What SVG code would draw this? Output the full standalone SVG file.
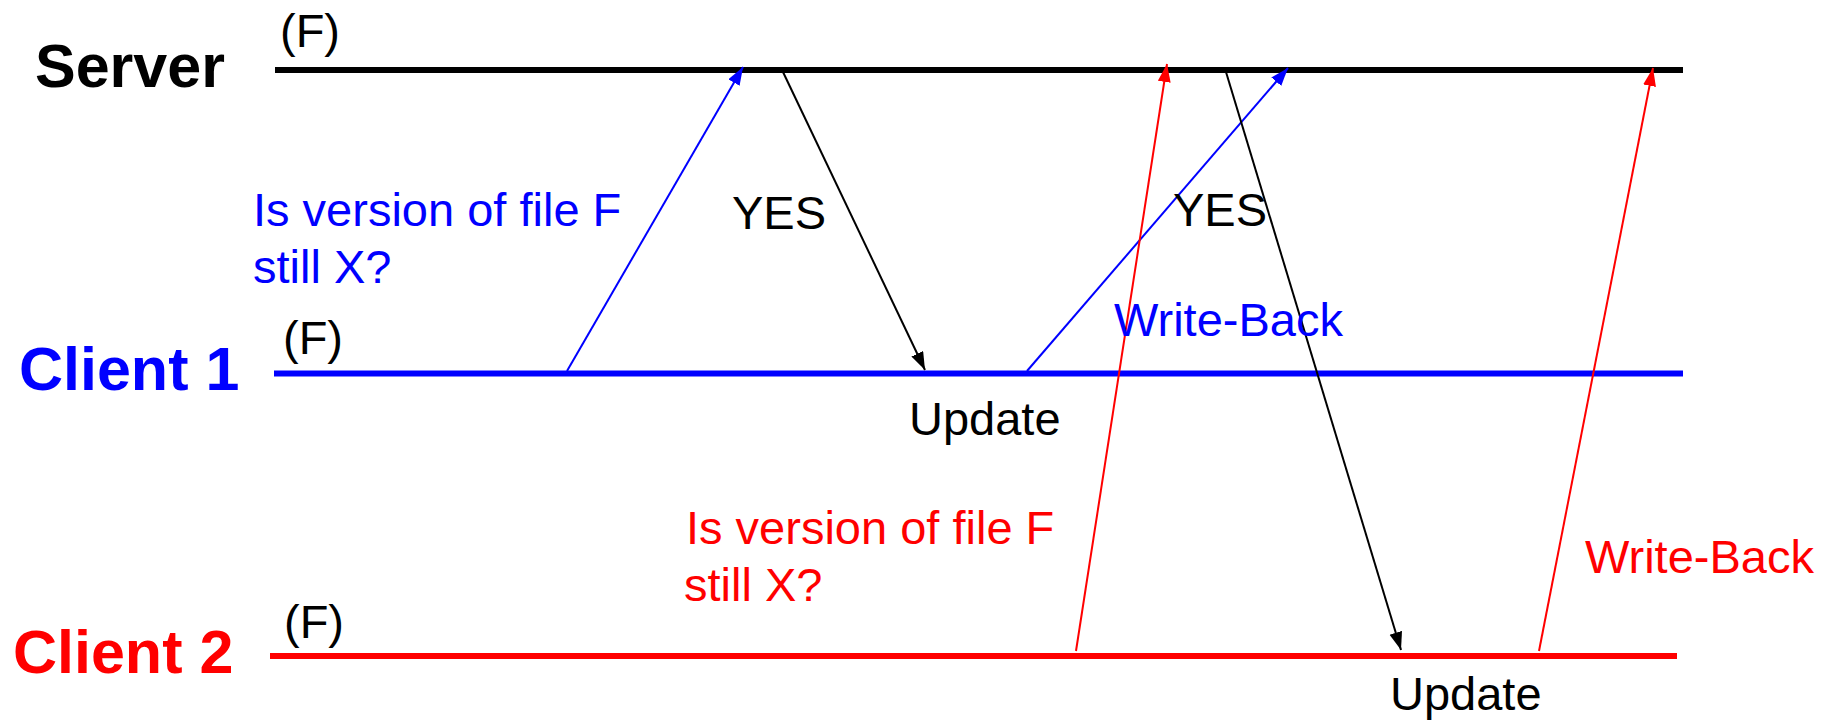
<svg xmlns="http://www.w3.org/2000/svg" width="1826" height="721" viewBox="0 0 1826 721">
<style>
  .lbl{font-family:"Liberation Sans",Arial,sans-serif;font-size:47px}
  .big{font-family:"Liberation Sans",Arial,sans-serif;font-size:61px;font-weight:bold}
  .k{fill:#000}
  .b{fill:#0000FF}
  .r{fill:#FF0000}
  .line{stroke-width:6;fill:none}
  .msg{stroke-width:2;fill:none}
</style>
<defs>
  <marker id="ak" markerUnits="userSpaceOnUse" markerWidth="19" markerHeight="14" refX="18" refY="6.5" orient="auto">
    <path d="M0,0 L18,6.5 L0,13 z" fill="#000"/>
  </marker>
  <marker id="ab" markerUnits="userSpaceOnUse" markerWidth="19" markerHeight="14" refX="18" refY="6.5" orient="auto">
    <path d="M0,0 L18,6.5 L0,13 z" fill="#0000FF"/>
  </marker>
  <marker id="ar" markerUnits="userSpaceOnUse" markerWidth="19" markerHeight="14" refX="18" refY="6.5" orient="auto">
    <path d="M0,0 L18,6.5 L0,13 z" fill="#FF0000"/>
  </marker>
</defs>
<rect width="1826" height="721" fill="#fff"/>

<g id="server">
  <text class="big k" x="35" y="87">Server</text>
  <text class="lbl k" x="280" y="47">(F)</text>
  <line class="line" x1="275" y1="70" x2="1683" y2="70" stroke="#000"/>
</g>
<g id="client1">
  <text class="big b" x="19" y="390">Client 1</text>
  <text class="lbl k" x="283" y="354">(F)</text>
  <line class="line" x1="274" y1="373.5" x2="1683" y2="373.5" stroke="#0000FF"/>
</g>
<g id="client2">
  <text class="big r" x="13" y="673">Client 2</text>
  <text class="lbl k" x="284" y="638">(F)</text>
  <line class="line" x1="270" y1="656" x2="1677" y2="656" stroke="#FF0000"/>
</g>

<g id="connectors">
  <line class="msg" x1="567" y1="371" x2="743" y2="67" stroke="#0000FF" marker-end="url(#ab)"/>
  <line class="msg" x1="783" y1="72" x2="925" y2="370" stroke="#000" marker-end="url(#ak)"/>
  <line class="msg" x1="1027" y1="371" x2="1288" y2="68" stroke="#0000FF" marker-end="url(#ab)"/>
  <line class="msg" x1="1076" y1="651" x2="1167" y2="64" stroke="#FF0000" marker-end="url(#ar)"/>
  <line class="msg" x1="1226" y1="72" x2="1401" y2="650" stroke="#000" marker-end="url(#ak)"/>
  <line class="msg" x1="1539" y1="651" x2="1653" y2="68" stroke="#FF0000" marker-end="url(#ar)"/>
</g>

<g id="labels">
  <text class="lbl b" x="253" y="226">Is version of file F</text>
  <text class="lbl b" x="253" y="283">still X?</text>
  <text class="lbl k" x="732" y="229">YES</text>
  <text class="lbl k" x="1173" y="226">YES</text>
  <text class="lbl b" x="1114" y="336">Write-Back</text>
  <text class="lbl k" x="909" y="435">Update</text>
  <text class="lbl r" x="686" y="544">Is version of file F</text>
  <text class="lbl r" x="684" y="601">still X?</text>
  <text class="lbl r" x="1585" y="573">Write-Back</text>
  <text class="lbl k" x="1390" y="710">Update</text>
</g>
</svg>
